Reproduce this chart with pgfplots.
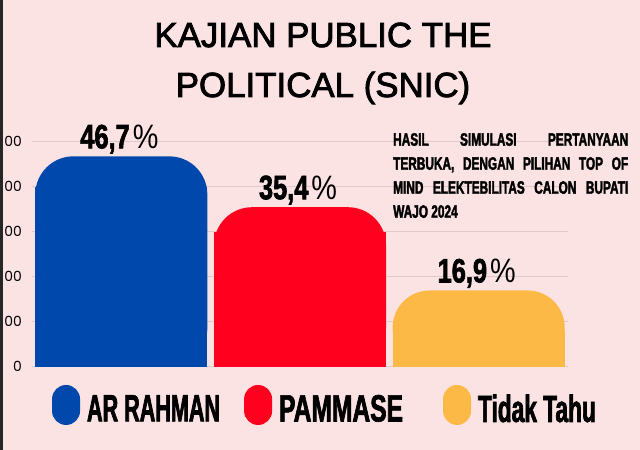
\documentclass[border=0pt]{standalone}
\usepackage{pgfplots}
\pgfplotsset{compat=1.18}
\usepackage{fontspec}
\setmainfont{Liberation Sans}
\newfontfamily\titlefont[FakeBold=2.4]{Liberation Sans}
\newfontfamily\valfont[FakeStretch=0.75,FakeBold=1.8]{Liberation Sans}
\newfontfamily\pctfont[FakeStretch=0.85]{Liberation Sans}
\newfontfamily\legfont[FakeStretch=0.57,FakeBold=1.8]{Liberation Sans}
\newfontfamily\legfontb[FakeStretch=0.65,FakeBold=1.8]{Liberation Sans}
\newfontfamily\legfontc[FakeStretch=0.60,FakeBold=1.8]{Liberation Sans}
\newfontfamily\boxfont[FakeStretch=0.66,FakeBold=2]{Liberation Sans}
\newfontfamily\tickfont{Poppins}
\definecolor{bg}{RGB}{252,227,227}
\definecolor{gridc}{RGB}{226,200,200}
\definecolor{barblue}{RGB}{0,72,171}
\definecolor{barred}{RGB}{255,0,30}
\definecolor{baryellow}{RGB}{253,185,70}
\begin{document}
\begin{tikzpicture}
\fill[bg] (0,0) rectangle (640bp,450bp);
\fill[black!85] (0,0) rectangle (3bp,450bp);
\useasboundingbox (0,0) rectangle (640bp,450bp);
\node[anchor=base, font=\titlefont\fontsize{35}{35}\selectfont] at (323bp,403bp) {KAJIAN PUBLIC THE};
\node[anchor=base, font=\titlefont\fontsize{35}{35}\selectfont] at (323bp,353bp) {POLITICAL (SNIC)};
\begin{axis}[
  at={(32bp,83.5bp)}, anchor=south west,
  scale only axis, width=536bp, height=225bp,
  xmin=-0.5, xmax=2.5, ymin=0, ymax=50,
  axis line style={draw=none}, major tick length=0pt,
  xtick=\empty, ytick={0,10,20,30,40,50},
  yticklabels={0,00,00,00,00,00},
  yticklabel style={inner sep=0pt, xshift=-10bp, font=\tickfont\fontsize{14}{14}\selectfont},
  ymajorgrids, grid style={color=gridc, line width=0.8bp},
  clip=false,
  bar width=172bp,
  every node near coord/.append style={anchor=base, yshift=8bp, xshift=-2bp, inner sep=0pt, text=black, font=\fontsize{34}{34}\selectfont},
  legend style={at={(0.037,-0.171)}, anchor=west, draw=none, fill=none,
    legend columns=3, inner sep=0pt, nodes={inner sep=0pt},
    font=\bfseries\fontsize{38}{38}\selectfont,
    /tikz/every odd column/.append style={column sep=7bp},
    /tikz/column 2/.append style={column sep=24bp},
    /tikz/column 4/.append style={column sep=40bp}},
  legend cell align=left,
]
\addplot[ybar, bar shift=0pt, fill=barblue, draw=none, forget plot] coordinates {(0,40)};
\addplot[ybar, bar shift=0pt, fill=barred, draw=none, forget plot] coordinates {(1,30)};
\addplot[ybar, bar shift=0pt, fill=baryellow, draw=none, forget plot] coordinates {(2,8)};
\addplot[ybar, bar shift=0pt, fill=barblue, draw=none, rounded corners=38bp,
  legend image code/.code={\fill[barblue, rounded corners=14bp] (0bp,-16bp) rectangle (28bp,24bp);},
  nodes near coords={{\valfont\bfseries\pgfmathprintnumber[assume math mode=true,use comma,fixed,fixed zerofill,precision=1]{\pgfplotspointmeta}}\kern3bp{\pctfont\%}}]
  coordinates {(0,46.7)};
\addlegendentry{\legfont AR RAHMAN}
\addplot[ybar, bar shift=0pt, fill=barred, draw=none, rounded corners=38bp,
  legend image code/.code={\fill[barred, rounded corners=14bp] (0bp,-16bp) rectangle (28bp,24bp);},
  nodes near coords={{\valfont\bfseries\pgfmathprintnumber[assume math mode=true,use comma,fixed,fixed zerofill,precision=1]{\pgfplotspointmeta}}\kern3bp{\pctfont\%}}]
  coordinates {(1,35.4)};
\addlegendentry{\legfontb PAMMASE}
\addplot[ybar, bar shift=0pt, fill=baryellow, draw=none, rounded corners=37bp,
  legend image code/.code={\fill[baryellow, rounded corners=14bp] (0bp,-16bp) rectangle (28bp,24bp);},
  nodes near coords={{\valfont\bfseries\pgfmathprintnumber[assume math mode=true,use comma,fixed,fixed zerofill,precision=1]{\pgfplotspointmeta}}\kern3bp{\pctfont\%}}]
  coordinates {(2,16.9)};
\addlegendentry{\legfontc Tidak Tahu}
\end{axis}
\node[anchor=north west, inner sep=0pt, font=\boxfont\bfseries\fontsize{18}{24}\selectfont] at (393bp,317bp) {\vbox{\baselineskip=24bp
\hbox to 235bp{HASIL\hfill SIMULASI\hfill PERTANYAAN}
\hbox to 235bp{TERBUKA,\hfill DENGAN\hfill PILIHAN\hfill TOP\hfill OF}
\hbox to 235bp{MIND\hfill ELEKTEBILITAS\hfill CALON\hfill BUPATI}
\hbox{WAJO 2024}}};
\end{tikzpicture}
\end{document}
